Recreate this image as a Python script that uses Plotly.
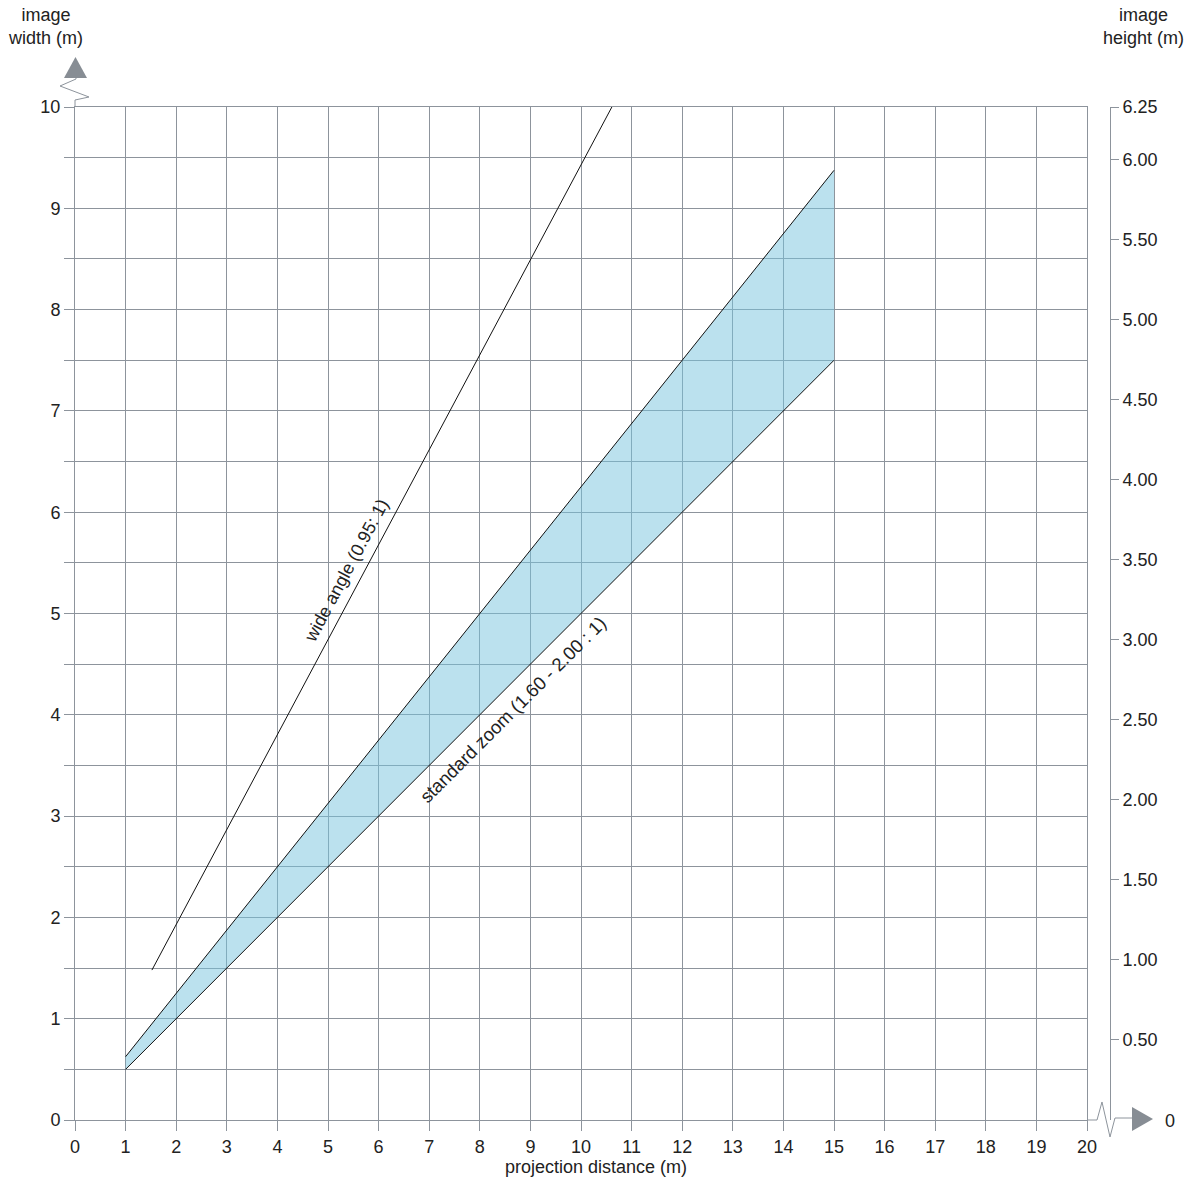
import plotly.graph_objects as go

# projection distance (m) vs image width (m)
zoom_dist = [1, 15]
zoom_tele = [0.625, 9.375]   # 1.60 : 1
zoom_wide = [0.5, 7.5]       # 2.00 : 1
wide_dist = [1.52, 10.61]
wide_width = [1.48, 10.0]

x_ticks = list(range(0, 21))
height_ticks = [0.5, 1.0, 1.5, 2.0, 2.5, 3.0, 3.5, 4.0, 4.5, 5.0, 5.5, 6.0, 6.33]
height_labels = ["0.50", "1.00", "1.50", "2.00", "2.50", "3.00", "3.50", "4.00",
                 "4.50", "5.00", "5.50", "6.00", "6.25"]

W, H = 1189, 1182
L, R, T, B = 75, 79, 107, 62
GRID = "#8d949c"
TXT = "#222222"
FONT = "Liberation Sans, Arial, sans-serif"
FS = 18


def px(x, y):
    # pixel -> paper coords
    return (x - L) / (W - L - R), (H - B - y) / (H - T - B)


def path(points, close=False):
    s = ""
    for i, (x, y) in enumerate(points):
        a, b = px(x, y)
        s += ("M" if i == 0 else "L") + f"{a:.5f},{b:.5f} "
    return s + ("Z" if close else "")


fig = go.Figure()

# shaded zoom band
fig.add_trace(go.Scatter(
    x=zoom_dist + zoom_dist[::-1],
    y=zoom_wide + zoom_tele[::-1],
    fill="toself", fillcolor="rgba(120,196,222,0.5)",
    line=dict(width=0), mode="lines", hoverinfo="skip"))
fig.add_trace(go.Scatter(x=zoom_dist, y=zoom_tele, mode="lines",
                         line=dict(color="#111", width=1)))
fig.add_trace(go.Scatter(x=zoom_dist, y=zoom_wide, mode="lines",
                         line=dict(color="#111", width=1)))
fig.add_trace(go.Scatter(x=wide_dist, y=wide_width, mode="lines",
                         line=dict(color="#111", width=1)))
# invisible trace to activate y2
fig.add_trace(go.Scatter(x=[0], y=[0], yaxis="y2", mode="markers",
                         marker=dict(opacity=0), hoverinfo="skip"))

fig.update_layout(
    width=W, height=H,
    margin=dict(l=L, r=R, t=T, b=B),
    plot_bgcolor="white", paper_bgcolor="white",
    showlegend=False,
    font=dict(family=FONT, size=FS, color=TXT),
    xaxis=dict(range=[0, 20], domain=[0, 1012 / 1035], tickvals=x_ticks,
               showgrid=True, gridcolor=GRID, gridwidth=1,
               showline=True, linecolor=GRID, linewidth=1, mirror=True,
               ticks="outside", ticklen=10, tickcolor=GRID,
               zeroline=False, fixedrange=True),
    yaxis=dict(range=[0, 10], dtick=1, tick0=0,
               showgrid=True, gridcolor=GRID, gridwidth=1,
               showline=True, linecolor=GRID, linewidth=1, mirror=True,
               ticks="outside", ticklen=10, tickcolor=GRID,
               minor=dict(dtick=0.5, showgrid=True, gridcolor=GRID,
                          ticks="outside", ticklen=10, tickcolor=GRID),
               zeroline=False),
    yaxis2=dict(range=[0, 6.33], overlaying="y", side="right",
                anchor="free", position=1.0,
                tickvals=height_ticks, ticktext=height_labels,
                showgrid=False, showline=True, linecolor=GRID, linewidth=1,
                ticks="outside", ticklen=8, tickcolor=GRID, zeroline=False),
)

# axis titles and curve labels
fig.add_annotation(text="image<br>width (m)", xref="paper", yref="paper",
                   x=px(45, 0)[0], y=px(0, 27)[1], showarrow=False,
                   xanchor="center", yanchor="middle")
fig.add_annotation(text="image<br>height (m)", xref="paper", yref="paper",
                   x=px(1186, 0)[0], y=px(0, 27)[1], showarrow=False,
                   xanchor="right", yanchor="middle")
fig.add_annotation(text="projection distance (m)", xref="paper", yref="paper",
                   x=px(596, 0)[0], y=px(0, 1167)[1], showarrow=False,
                   xanchor="center", yanchor="middle")
fig.add_annotation(text="0", xref="paper", yref="paper",
                   x=px(1170, 0)[0], y=px(0, 1121)[1], showarrow=False,
                   xanchor="center", yanchor="middle")
fig.add_annotation(text="wide angle (0.95: 1)", x=5.36, y=5.42,
                   textangle=-62, showarrow=False)
fig.add_annotation(text="standard zoom (1.60 - 2.00 : 1)", x=8.66, y=4.05,
                   textangle=-45, showarrow=False, font=dict(size=18.5))

# axis break marks and arrows
fig.add_shape(type="path", xref="paper", yref="paper",
              path=path([(75, 107), (75, 100), (89, 97), (60, 86), (76, 79), (76, 78)]),
              line=dict(color=GRID, width=1))
fig.add_shape(type="path", xref="paper", yref="paper",
              path=path([(64, 78), (87, 78), (75.5, 57)], close=True),
              fillcolor="#878d94", line=dict(width=0))
fig.add_shape(type="path", xref="paper", yref="paper",
              path=path([(1087, 1120), (1097, 1120), (1102, 1102), (1110, 1137),
                         (1115, 1118), (1133, 1118)]),
              line=dict(color=GRID, width=1))
fig.add_shape(type="path", xref="paper", yref="paper",
              path=path([(1132, 1107), (1132, 1131), (1153, 1119)], close=True),
              fillcolor="#878d94", line=dict(width=0))

fig.write_html("out.html", config={"displayModeBar": False},
               post_script="document.body.style.margin='0';")
